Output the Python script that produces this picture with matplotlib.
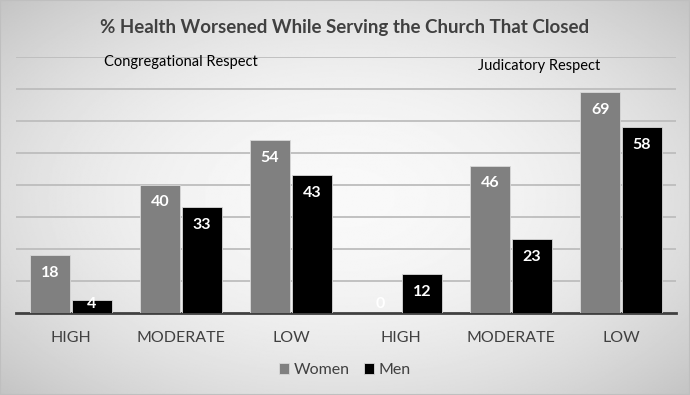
import numpy as np
import matplotlib
matplotlib.use("Agg")
import matplotlib.pyplot as plt

# data
categories = ["HIGH", "MODERATE", "LOW", "HIGH", "MODERATE", "LOW"]
women = [18, 40, 54, 0, 46, 69]
men = [4, 33, 43, 12, 23, 58]
group_labels = ["Congregational Respect", "Judicatory Respect"]

plt.rcParams["font.family"] = ["Lato", "DejaVu Sans"]
text_color = "#404040"

fig = plt.figure(figsize=(6.9, 3.95), dpi=100)

# radial gray background, light in the middle
bg = fig.add_axes([0, 0, 1, 1], zorder=0)
yy, xx = np.mgrid[-1:1:300j, -1:1:500j]
r2 = (xx / 1.05) ** 2 + (yy / 1.1) ** 2
shade = np.clip(0.975 - 0.12 * r2, 0, 1)
bg.imshow(shade, cmap="gray", vmin=0, vmax=1, aspect="auto", extent=[0, 1, 0, 1])
bg.set_axis_off()
fig.patches.append(plt.Rectangle((0, 0), 1, 1, transform=fig.transFigure,
                                 fill=False, edgecolor="#bfbfbf", lw=1.5, zorder=5))

ax = fig.add_axes([0.023, 0.208, 0.957, 0.648], zorder=1)
ax.patch.set_alpha(0)

x = np.arange(len(categories))
w = 0.36
off = 0.19
bw = ax.bar(x - off, women, w, color="#808080", edgecolor="#d9d9d9", lw=0.6,
            label="Women", zorder=3)
bm = ax.bar(x + off, men, w, color="black", edgecolor="#d9d9d9", lw=0.6,
            label="Men", zorder=3)

for bars, vals in ((bw, women), (bm, men)):
    for b, v in zip(bars, vals):
        cx = b.get_x() + b.get_width() / 2
        y = max(v - 5.5, 2.7)
        ax.text(cx, y, str(v), ha="center", va="center", color="white",
                fontsize=11.5, fontweight="bold", zorder=4)

ax.set_xlim(-0.5, len(categories) - 0.5)
ax.set_ylim(0, 80)
ax.set_yticks(np.arange(10, 81, 10))
ax.yaxis.grid(True, color="#bdbdbd", lw=1.3, zorder=0)
ax.tick_params(axis="y", length=0, labelleft=False)
ax.set_xticks(x)
ax.set_xticklabels(categories, fontsize=11.5, color=text_color)
ax.tick_params(axis="x", length=0, pad=13)
for s in ("top", "right", "left"):
    ax.spines[s].set_visible(False)
ax.spines["bottom"].set_color("#404040")
ax.spines["bottom"].set_linewidth(2)

ax.text(1.0, 78.5, group_labels[0], ha="center", va="center", fontsize=10.5, color="black")
ax.text(4.25, 77.3, group_labels[1], ha="center", va="center", fontsize=10.5, color="black")

fig.text(0.5, 0.93, "% Health Worsened While Serving the Church That Closed",
         ha="center", va="center", fontsize=13.5, fontweight="bold", color=text_color)

fig.legend(handles=[bw, bm], labels=["Women", "Men"], loc="center",
           bbox_to_anchor=(0.5, 0.063), ncol=2, frameon=False, fontsize=11.5,
           handlelength=0.6, handleheight=0.6, handletextpad=0.3, columnspacing=0.9,
           labelcolor=text_color)

fig.savefig("out.png", dpi=100)
